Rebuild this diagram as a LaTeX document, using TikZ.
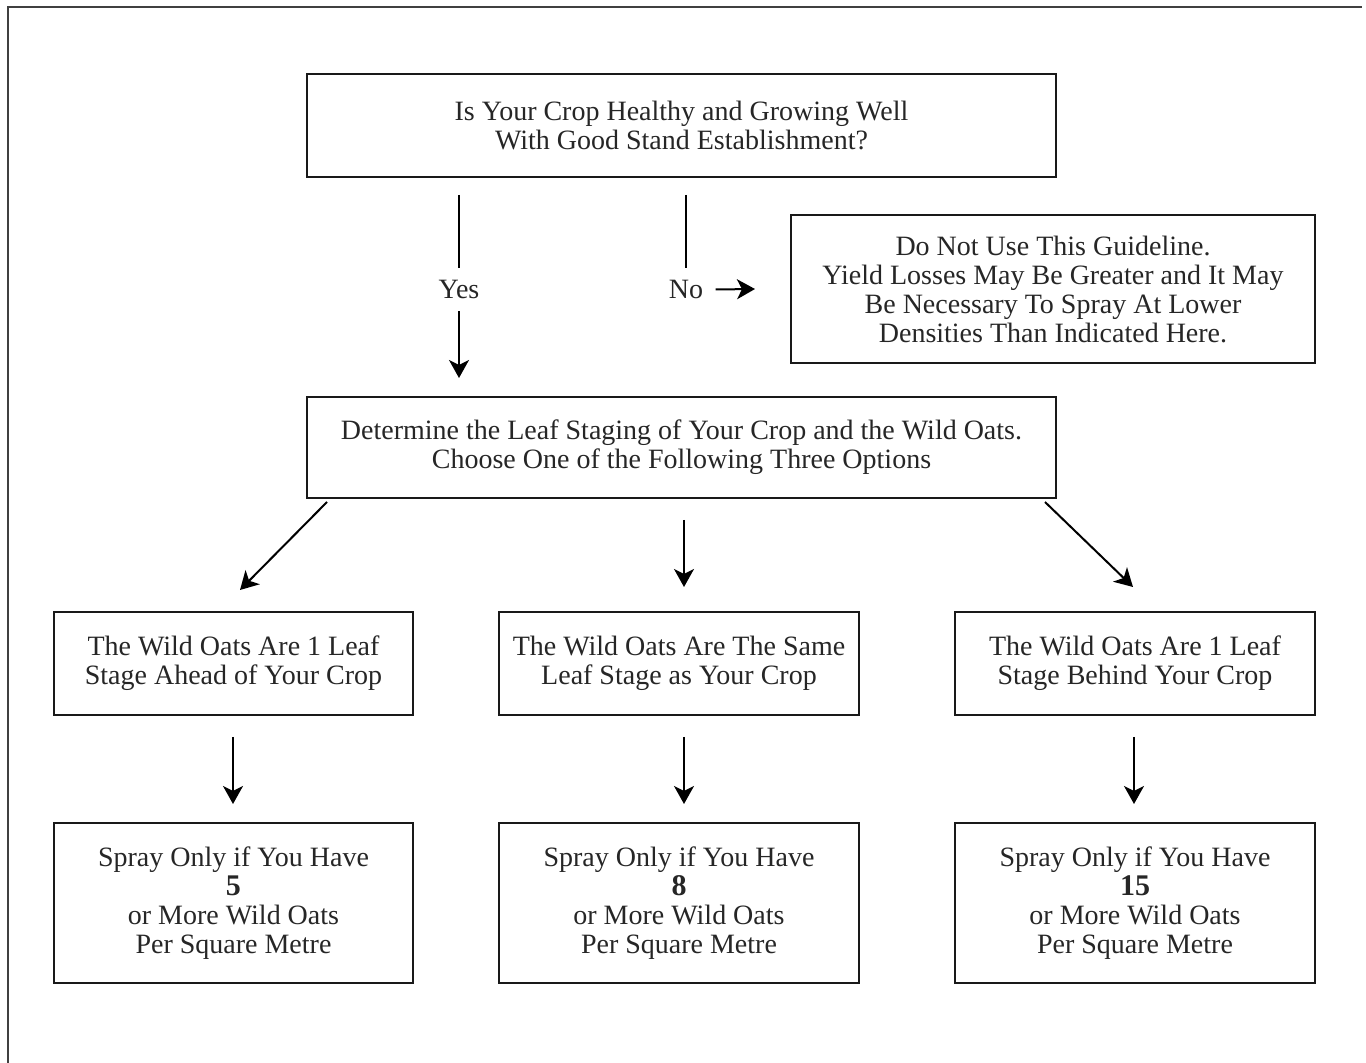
\documentclass[tikz,border=0pt]{standalone}
\usepackage{fontspec}
\setmainfont{Liberation Serif}
\usetikzlibrary{arrows.meta}
\tikzset{
  box/.style={draw=black!90, line width=1.3pt, rectangle, align=center, inner sep=0pt,
    font=\fontsize{14}{14.5}\selectfont, text=black!85},
  lbl/.style={inner sep=0pt, minimum height=21.5pt, font=\fontsize{14}{14.5}\selectfont, text=black!85},
  conn/.style={line width=1pt},
  arr/.style={line width=1pt, -{Stealth[length=9pt,width=10pt,inset=2.5pt]}},
}
\begin{document}
\begin{tikzpicture}[x=0.5pt,y=-0.5pt]
\useasboundingbox (0,0) rectangle (1366,1063);
% outer frame (top and left)
\draw[line width=1.3pt, black!75] (8,1063) -- (8,7) -- (1362,7);

\node[box, minimum width=374.5pt, minimum height=51.5pt] (top) at (681.5,125.5)
  {Is Your Crop Healthy and Growing Well\\With Good Stand Establishment?};
\node[box, minimum width=262pt, minimum height=74pt] (no) at (1053,289)
  {Do Not Use This Guideline.\\Yield Losses May Be Greater and It May\\Be Necessary To Spray At Lower\\Densities Than Indicated Here.};
\node[box, minimum width=374.5pt, minimum height=50.5pt] (mid) at (681.5,447.5)
  {Determine the Leaf Staging of Your Crop and the Wild Oats.\\Choose One of the Following Three Options};

\node[box, minimum width=179.5pt, minimum height=51.5pt] (a1) at (233.5,663.5)
  {The Wild Oats Are 1 Leaf\\Stage Ahead of Your Crop};
\node[box, minimum width=180pt, minimum height=51.5pt] (b1) at (679,663.5)
  {The Wild Oats Are The Same\\Leaf Stage as Your Crop};
\node[box, minimum width=180pt, minimum height=51.5pt] (c1) at (1135,663.5)
  {The Wild Oats Are 1 Leaf\\Stage Behind Your Crop};

\node[box, minimum width=179.5pt, minimum height=80pt] (a2) at (233.5,903)
  {Spray Only if You Have\\{\fontsize{15}{14.5}\selectfont\bfseries 5}\\or More Wild Oats\\Per Square Metre};
\node[box, minimum width=180pt, minimum height=80pt] (b2) at (679,903)
  {Spray Only if You Have\\{\fontsize{15}{14.5}\selectfont\bfseries 8}\\or More Wild Oats\\Per Square Metre};
\node[box, minimum width=180pt, minimum height=80pt] (c2) at (1135,903)
  {Spray Only if You Have\\{\fontsize{15}{14.5}\selectfont\bfseries 15}\\or More Wild Oats\\Per Square Metre};

% Yes / No
\node[lbl] (yes) at (459,289.5) {Yes};
\node[lbl] (nol) at (686,289.5) {No};
\coordinate (ys) at (459,195);
\coordinate (ye) at (459,378);
\coordinate (ns) at (686,195);
\coordinate (ne) at (755,289);
\draw[conn] (ys) -- (yes.north);
\draw[arr] (yes.south) -- (ye);
\draw[conn] (ns) -- (nol.north);
\draw[arr] ([xshift=6pt]nol.east) -- (ne);

% middle to row 3
\coordinate (l0) at (327,502); \coordinate (l1) at (240,590);
\coordinate (m0) at (684,520); \coordinate (m1) at (684,587);
\coordinate (r0) at (1045,502); \coordinate (r1) at (1133,587);
\draw[arr] (l0) -- (l1);
\draw[arr] (m0) -- (m1);
\draw[arr] (r0) -- (r1);

% row 3 to row 4
\coordinate (a0) at (233,737); \coordinate (a9) at (233,804);
\coordinate (b0) at (684,737); \coordinate (b9) at (684,804);
\coordinate (c0) at (1134,737); \coordinate (c9) at (1134,804);
\draw[arr] (a0) -- (a9);
\draw[arr] (b0) -- (b9);
\draw[arr] (c0) -- (c9);
\end{tikzpicture}
\end{document}
